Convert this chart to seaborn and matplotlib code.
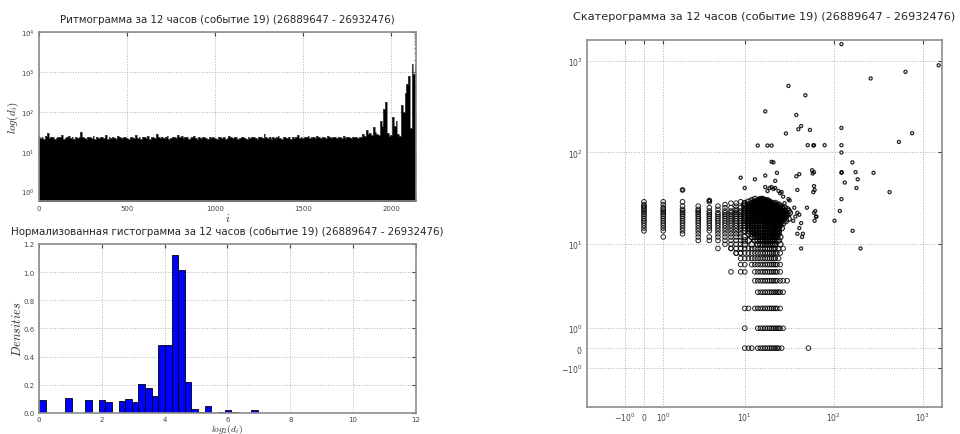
import numpy as np
import pandas as pd
import matplotlib
matplotlib.use('Agg')
import matplotlib.pyplot as plt
import seaborn as sns

# --- rhythmogram: upper envelope of d_i, one value per 10 intervals (i = 0..2140)
rhythm_top = [
    23, 22, 24, 21, 25, 30, 22, 23, 24, 21,
    22, 24, 23, 26, 21, 22, 23, 25, 22, 24,
    21, 23, 22, 24, 31, 23, 22, 21, 24, 23,
    22, 25, 21, 23, 22, 24, 23, 22, 26, 21,
    23, 22, 24, 22, 21, 25, 23, 22, 24, 23,
    22, 21, 24, 23, 22, 26, 22, 23, 21, 24,
    23, 22, 25, 21, 23, 24, 22, 27, 23, 22,
    24, 22, 23, 25, 21, 22, 24, 23, 22, 26,
    23, 25, 22, 24, 23, 21, 22, 23, 25, 22,
    21, 23, 22, 24, 23, 22, 21, 23, 22, 24,
    22, 21, 23, 24, 22, 23, 21, 22, 25, 23,
    22, 24, 23, 21, 22, 23, 24, 22, 21, 23,
    22, 24, 23, 22, 21, 23, 24, 22, 27, 23,
    22, 23, 21, 24, 22, 23, 25, 22, 21, 24,
    23, 22, 24, 21, 23, 22, 24, 26, 22, 23,
    22, 24, 23, 25, 22, 23, 24, 22, 25, 23,
    22, 24, 23, 22, 25, 23, 22, 24, 23, 22,
    24, 23, 22, 25, 22, 23, 24, 22, 23, 24,
    23, 22, 24, 23, 27, 25, 35, 28, 30, 26,
    42, 32, 28, 26, 60, 45, 120, 180, 30, 25,
    26, 75, 45, 60, 27, 25, 150, 100, 300, 500,
    800, 40, 1600, 900, 1500,
]
rhythm_step = 10

# --- normalized histogram of log2(d_i): 50 bins over [0, 10.55]
hist_max = 10.55
hist_density = [
    0.09, 0.0, 0.0, 0.0, 0.105, 0.0, 0.0, 0.09, 0.0, 0.09,
    0.075, 0.0, 0.085, 0.10, 0.075, 0.205, 0.175, 0.12, 0.48, 0.485,
    1.12, 1.015, 0.22, 0.03, 0.005, 0.05, 0.002, 0.01, 0.02, 0.005,
    0.0, 0.0, 0.02, 0.0, 0.003, 0.003, 0.0, 0.0, 0.0, 0.0,
    0.0, 0.0, 0.0, 0.0, 0.0, 0.0, 0.0, 0.0, 0.0, 0.002,
]

# --- scattergram (d_i, d_i+1)
# short intervals followed by a normal one: x fixed, list of y
col_x = [0, 1, 2, 3, 4, 5, 6, 7, 8, 9]
col_y = [
    [14, 15, 16, 17, 18, 19, 20, 21, 22, 23, 24, 25, 26, 27, 29],
    [12, 14, 15, 16, 17, 18, 19, 20, 21, 22, 23, 24, 25, 27, 29],
    [13, 14, 15, 16, 17, 18, 19, 20, 21, 22, 23, 24, 26, 29, 39],
    [11, 12, 13, 14, 15, 16, 17, 18, 19, 20, 21, 22, 23, 24, 26],
    [11, 12, 14, 15, 16, 17, 18, 19, 20, 21, 22, 23, 25, 29, 30],
    [9, 11, 12, 13, 14, 15, 16, 17, 18, 19, 20, 21, 22, 24, 26],
    [10, 11, 12, 13, 14, 15, 16, 17, 18, 19, 20, 21, 22, 23, 25, 27],
    [9, 10, 11, 12, 13, 14, 15, 16, 17, 18, 19, 20, 21, 22, 23, 25, 28],
    [8, 10, 11, 12, 13, 14, 15, 16, 17, 18, 19, 20, 21, 22, 23, 24, 26, 28],
    [8, 9, 10, 11, 12, 13, 14, 15, 16, 17, 18, 19, 20, 21, 22, 23, 25, 29],
]
# normal interval followed by a short one: y fixed, list of x
row_y = [0, 1, 2, 3, 4, 5, 6, 7, 8, 9]
row_x = [
    [10, 11, 12, 14, 15, 16, 17, 18, 19, 20, 21, 22, 23, 24, 26, 52],
    [10, 14, 15, 16, 17, 18, 19, 20, 21, 22, 23, 24, 25, 27],
    [10, 11, 13, 14, 15, 16, 17, 18, 19, 20, 21, 22, 23, 25],
    [14, 15, 16, 17, 18, 19, 20, 21, 22, 23, 24, 25, 27],
    [13, 14, 15, 16, 17, 18, 19, 20, 21, 22, 23, 25, 27, 30],
    [7, 9, 10, 13, 14, 15, 16, 17, 18, 19, 20, 21, 22, 23, 25],
    [9, 10, 12, 13, 14, 15, 16, 17, 18, 19, 20, 21, 22, 23, 25],
    [9, 10, 11, 12, 13, 14, 15, 16, 17, 18, 19, 20, 21, 22, 24],
    [8, 9, 10, 11, 12, 13, 14, 15, 16, 17, 18, 19, 20, 21, 22, 23, 25],
    [7, 8, 9, 10, 11, 12, 13, 14, 15, 16, 17, 18, 19, 20, 21, 22, 24, 27],
]
# main cluster: y fixed, list of x
cluster_y = [31, 30, 29, 28, 27, 26, 25, 24, 23, 22, 21, 20, 19, 18, 17, 16,
             15, 14, 13, 12, 11, 10]
cluster_x = [
    [13, 15, 16],
    [12, 14, 15, 16, 17, 18],
    [11, 13, 14, 15, 16, 17, 18, 19],
    [10, 12, 13, 14, 15, 16, 17, 18, 19, 20, 22],
    [10, 11, 12, 13, 14, 15, 16, 17, 18, 19, 20, 21, 22, 24],
    [10, 11, 12, 13, 14, 15, 16, 17, 18, 19, 20, 21, 22, 23, 25],
    [10, 11, 12, 13, 14, 15, 16, 17, 18, 19, 20, 21, 22, 23, 24, 26, 28],
    [10, 11, 12, 13, 14, 15, 16, 17, 18, 19, 20, 21, 22, 23, 24, 25, 27, 30],
    [10, 11, 12, 13, 14, 15, 16, 17, 18, 19, 20, 21, 22, 23, 24, 25, 26, 28, 31],
    [10, 11, 12, 13, 14, 15, 16, 17, 18, 19, 20, 21, 22, 23, 24, 25, 26, 27, 29, 32],
    [10, 11, 12, 13, 14, 15, 16, 17, 18, 19, 20, 21, 22, 23, 24, 25, 26, 27, 28, 30],
    [10, 11, 12, 13, 14, 15, 16, 17, 18, 19, 20, 21, 22, 23, 24, 25, 26, 27, 29],
    [10, 11, 12, 13, 14, 15, 16, 17, 18, 19, 20, 21, 22, 23, 24, 25, 26, 28, 31],
    [10, 11, 12, 13, 14, 15, 16, 17, 18, 19, 20, 21, 22, 23, 24, 25, 26, 29],
    [10, 11, 12, 13, 14, 15, 16, 17, 18, 19, 20, 21, 22, 23, 24, 25, 27],
    [10, 11, 12, 13, 14, 15, 16, 17, 18, 19, 20, 21, 22, 23, 24, 25],
    [10, 11, 12, 13, 14, 15, 16, 17, 18, 19, 20, 21, 22, 23, 24, 26],
    [10, 11, 12, 13, 14, 15, 16, 17, 18, 19, 20, 21, 22, 23, 24],
    [11, 12, 13, 14, 15, 16, 17, 18, 19, 20, 21, 22, 23, 24],
    [10, 12, 13, 14, 15, 16, 17, 18, 19, 20, 21, 22, 23, 25],
    [10, 11, 13, 14, 15, 16, 17, 18, 19, 20, 21, 22, 24],
    [10, 12, 14, 15, 16, 17, 18, 19, 20, 21, 22, 25],
]
# scattered points away from the cluster
outlier_x = [122, 1510, 640, 260, 31, 48, 17, 38, 43, 40, 54, 29, 122, 760, 540,
             14, 18, 20, 51, 59, 60, 79, 122, 122, 20, 21, 162, 280, 122, 123,
             176, 186, 133, 180, 424, 122, 117, 163, 102, 200, 9, 10, 13, 17,
             22, 23, 17, 19, 20, 21, 22, 24, 25, 26, 18, 38, 41, 39, 60, 61,
             59, 57, 60, 58, 32, 28, 50, 36, 39, 41, 37, 60, 64, 61, 43, 41,
             45, 35, 2, 4, 15, 19, 20, 27, 31, 43, 39, 44, 62, 63]
outlier_y = [1510, 890, 755, 640, 530, 420, 280, 256, 194, 179, 176, 161, 185, 162, 130,
             119, 119, 119, 120, 119, 120, 120, 120, 100, 79, 78, 78, 60, 60, 61,
             61, 51, 47, 41, 37, 31, 23, 14, 18, 9, 53, 41, 51, 56,
             49, 60, 42, 41, 42, 40, 41, 38, 36, 37, 38, 55, 58, 39, 43, 39,
             37, 64, 61, 59, 30, 28, 25, 25, 22, 21, 20, 22, 20, 18, 17, 15,
             13, 18, 39, 30, 31, 28, 27, 33, 31, 9, 13, 12, 23, 20]

title_suffix = "за 12 часов (событие 19) (26889647 - 26932476)"
rhythm_title = "Ритмограмма " + title_suffix
hist_title = "Нормализованная гистограмма " + title_suffix
scatter_title = "Скатерограмма " + title_suffix

# --- style
sns.set_style('white')
plt.rcParams.update({
    'font.family': ['DejaVu Sans'],
    'mathtext.fontset': 'cm',
    'axes.edgecolor': '#8c8c8c',
    'axes.linewidth': 1.2,
    'xtick.direction': 'in',
    'ytick.direction': 'in',
    'xtick.top': True,
    'ytick.right': True,
    'xtick.color': '#444444',
    'ytick.color': '#444444',
    'xtick.major.size': 3,
    'ytick.major.size': 3,
    'xtick.minor.size': 1.5,
    'ytick.minor.size': 1.5,
    'xtick.major.pad': 3,
    'ytick.major.pad': 3,
    'grid.color': '#b0b0b0',
    'grid.linestyle': ':',
    'grid.linewidth': 0.7,
})
tick_fs = 5
title_fs = 7.4
label_fs = 8

fig = plt.figure(figsize=(9.6, 4.35), dpi=100)
ax1 = fig.add_axes([0.0406, 0.5356, 0.3927, 0.3885])
ax2 = fig.add_axes([0.0406, 0.0483, 0.3927, 0.3885])
ax3 = fig.add_axes([0.6111, 0.0628, 0.3701, 0.8430])

# rhythmogram
idx = np.arange(len(rhythm_top)) * rhythm_step
rhythm = pd.DataFrame({'i': idx, 'd': rhythm_top})
ax1.fill_between(rhythm['i'], 1e-3, rhythm['d'], step='mid', color='black', lw=0)
sns.lineplot(data=rhythm, x='i', y='d', ax=ax1, color='#555555', lw=0.5,
             drawstyle='steps-mid')
ax1.set_yscale('log')
ax1.set_xlim(0, 2140)
ax1.set_ylim(0.58, 1e4)
ax1.set_xticks([0, 500, 1000, 1500, 2000])
ax1.set_axisbelow(True)
ax1.grid(True, which='major')
ax1.set_title(rhythm_title, fontsize=title_fs, pad=7)
ax1.set_xlabel('$i$', fontsize=label_fs, labelpad=0)
ax1.set_ylabel('$log(d_i)$', fontsize=label_fs, labelpad=0)

# histogram
n_bins = len(hist_density)
bin_w = hist_max / n_bins
centers = (np.arange(n_bins) + 0.5) * bin_w
hist = pd.DataFrame({'v': centers, 'w': hist_density})
sns.histplot(data=hist, x='v', weights='w', binwidth=bin_w, binrange=(0, hist_max),
             stat='count', ax=ax2, color='#0000ff', edgecolor='black',
             linewidth=0.6, alpha=1)
ax2.set_xlim(0, 12)
ax2.set_ylim(0, 1.2)
ax2.set_xticks(range(0, 13, 2))
ax2.set_yticks(np.arange(0, 1.21, 0.2))
ax2.yaxis.set_major_formatter(matplotlib.ticker.FormatStrFormatter('%.1f'))
ax2.set_axisbelow(True)
ax2.grid(True)
ax2.set_title(hist_title, fontsize=title_fs, pad=7)
ax2.set_xlabel('$log_2(d_i)$', fontsize=6.8, labelpad=0.5)
ax2.set_ylabel('$Densities$', fontsize=label_fs + 1, labelpad=0)

# scattergram: dense groups drawn with larger rings, isolated points smaller
groups = []
for x, yl in zip(col_x, col_y):
    groups += [(x, y, 'band') for y in yl]
for y, xl in zip(row_y, row_x):
    groups += [(x, y, 'band') for x in xl]
for y, xl in zip(cluster_y, cluster_x):
    groups += [(x, y, 'core') for x in xl]
groups += [(x, y, 'lone') for x, y in zip(outlier_x, outlier_y)]
pts = pd.DataFrame(groups, columns=['x', 'y', 'kind'])
marker_size = {'core': 16, 'band': 11, 'lone': 5}
marker_lw = {'core': 0.9, 'band': 0.7, 'lone': 0.9}
for kind, sub in pts.groupby('kind'):
    sns.scatterplot(data=sub, x='x', y='y', ax=ax3, marker='o', s=marker_size[kind],
                    facecolor='none', edgecolor='black', linewidth=marker_lw[kind],
                    alpha=0.85)
for setter in (ax3.set_xscale, ax3.set_yscale):
    setter('symlog', linthresh=2, linscale=0.39)
ax3.set_xlim(-3.25, 1645)
ax3.set_ylim(-3.2, 1680)
sym_ticks = [-1, 0, 1, 10, 100, 1000]
sym_labels = [r'$\mathdefault{-10^{0}}$', r'$\mathdefault{0}$', r'$\mathdefault{10^{0}}$',
              r'$\mathdefault{10^{1}}$', r'$\mathdefault{10^{2}}$', r'$\mathdefault{10^{3}}$']
ax3.set_xticks(sym_ticks)
ax3.set_xticklabels(sym_labels)
ax3.set_yticks(sym_ticks)
ax3.set_yticklabels(sym_labels)
ax3.set_axisbelow(True)
ax3.grid(True, which='major')
ax3.set_xlabel('')
ax3.set_ylabel('')
ax3.set_title(scatter_title, fontsize=8.1, pad=15)

for ax in (ax1, ax2, ax3):
    ax.tick_params(labelsize=tick_fs, which='both')
    for sp in ax.spines.values():
        sp.set_visible(True)
ax2.tick_params(axis='x', pad=2)
ax3.tick_params(labelsize=5.5)

fig.savefig('out.png', dpi=100)
